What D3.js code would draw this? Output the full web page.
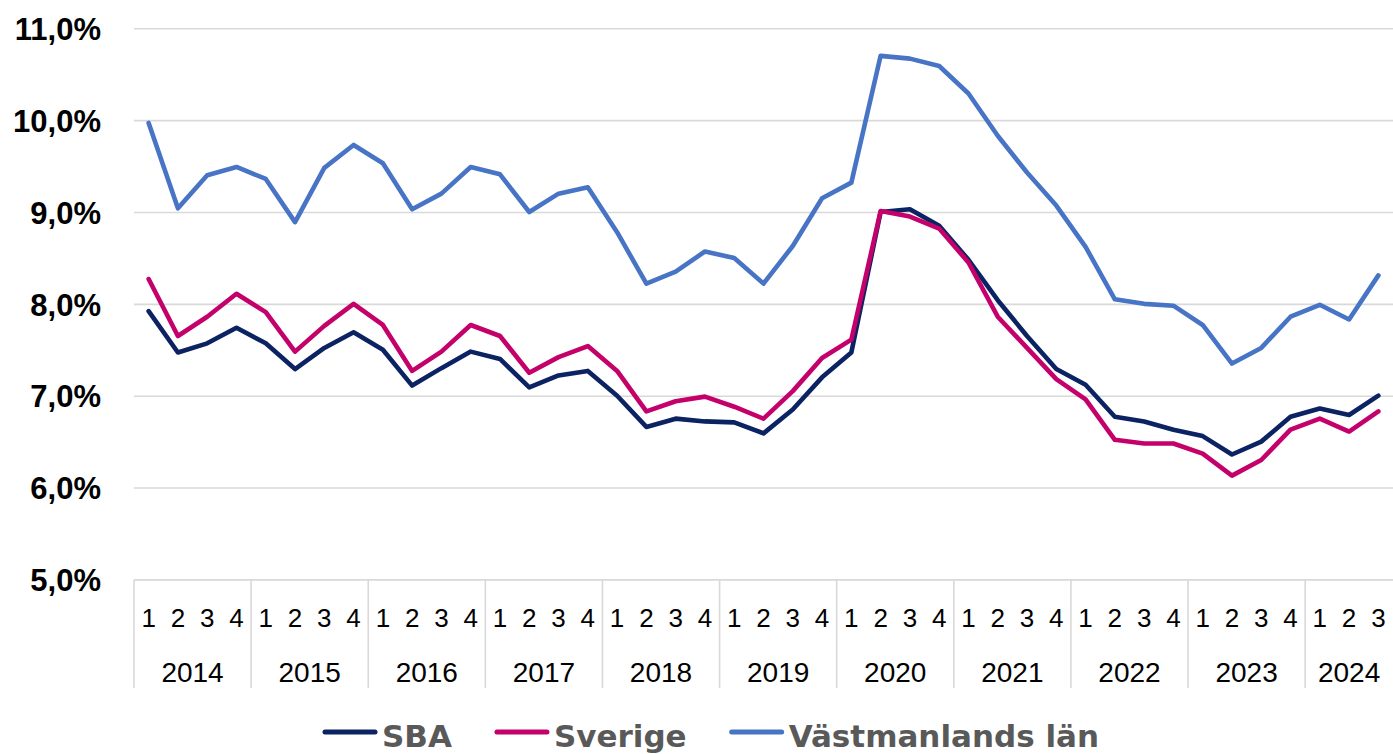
<!DOCTYPE html>
<html>
<head>
<meta charset="utf-8">
<script src="https://cdn.jsdelivr.net/npm/d3@7"></script>
<style>
  body { margin: 0; background: #fff; }
  svg { display: block; }
</style>
</head>
<body>
<svg width="1393" height="754"></svg>
<script>
// years and quarter labels for the two-level x axis
const years = ["2014", "2015", "2016", "2017", "2018", "2019", "2020", "2021", "2022", "2023", "2024"];
const quarterLabels = ["1", "2", "3", "4"];
const quartersInLastYear = 3;

// unemployment share per quarter, in percent
const sba = [
  7.92, 7.47, 7.57, 7.74, 7.57, 7.29, 7.52, 7.69, 7.50, 7.11, 7.30, 7.48,
  7.40, 7.09, 7.22, 7.27, 7.00, 6.66, 6.75, 6.72, 6.71, 6.59, 6.85, 7.20,
  7.47, 9.00, 9.03, 8.85, 8.48, 8.04, 7.65, 7.29, 7.12, 6.77, 6.72, 6.63,
  6.56, 6.36, 6.50, 6.77, 6.86, 6.79, 7.00,
];
const sverige = [
  8.27, 7.65, 7.86, 8.11, 7.91, 7.48, 7.76, 8.00, 7.77, 7.27, 7.48, 7.77,
  7.65, 7.25, 7.42, 7.54, 7.27, 6.83, 6.94, 6.99, 6.88, 6.75, 7.05, 7.41,
  7.61, 9.01, 8.95, 8.82, 8.45, 7.86, 7.52, 7.18, 6.96, 6.52, 6.48, 6.48,
  6.37, 6.13, 6.30, 6.63, 6.75, 6.61, 6.83,
];
const vastmanland = [
  9.97, 9.04, 9.40, 9.49, 9.36, 8.89, 9.48, 9.73, 9.53, 9.03, 9.20, 9.49,
  9.41, 9.00, 9.20, 9.27, 8.78, 8.22, 8.35, 8.57, 8.50, 8.22, 8.63, 9.15,
  9.32, 10.70, 10.67, 10.59, 10.29, 9.83, 9.43, 9.07, 8.62, 8.05, 8.00, 7.98,
  7.77, 7.35, 7.52, 7.86, 7.99, 7.83, 8.31,
];
const yTicks = [5, 6, 7, 8, 9, 10, 11];

const seriesNames = ["SBA", "Sverige", "Västmanlands län"];
const seriesColors = ["#0b2263", "#c4006a", "#4874c6"];
const seriesData = [sba, sverige, vastmanland];

// build the category list (year, quarter)
const categories = [];
years.forEach((y, yi) => {
  const n = yi === years.length - 1 ? quartersInLastYear : 4;
  for (let q = 0; q < n; q++) categories.push({ year: y, q: quarterLabels[q] });
});

const svg = d3.select("svg");
const margin = { left: 134, right: 0, top: 28.3, bottom: 579.4 };
const gridColor = "#d9d9d9";
const font = "'Liberation Sans', Arial, sans-serif";

const x = d3
  .scaleBand()
  .domain(d3.range(categories.length))
  .range([margin.left, 1393 - margin.right])
  .paddingInner(0)
  .paddingOuter(0);
const y = d3.scaleLinear().domain([5, 11]).range([margin.bottom, margin.top]);
const cx = (i) => x(i) + x.bandwidth() / 2;

// horizontal gridlines
svg
  .append("g")
  .attr("transform", `translate(${margin.left},0)`)
  .call(d3.axisLeft(y).tickValues(yTicks).tickSize(-(1393 - margin.left)).tickFormat(""))
  .call((g) => g.select(".domain").remove())
  .call((g) => g.selectAll("line").attr("stroke", gridColor).attr("stroke-width", 1.6));

// y labels
svg
  .append("g")
  .attr("transform", `translate(${margin.left},0)`)
  .call(
    d3
      .axisLeft(y)
      .tickValues(yTicks)
      .tickSize(0)
      .tickPadding(33)
      .tickFormat((d) => d.toFixed(1).replace(".", ",") + "%")
  )
  .call((g) => g.select(".domain").remove())
  .call((g) =>
    g
      .selectAll("text")
      .attr("fill", "#000")
      .attr("font-family", font)
      .attr("font-weight", "bold")
      .attr("font-size", "31px")
      .attr("dy", "0.36em")
  );

// x axis: year separators
const axisBottomY = y(5);
const sepBottom = 688;
const sepIdx = [0];
categories.forEach((c, i) => {
  if (i > 0 && c.q === "1") sepIdx.push(i);
});
svg
  .append("g")
  .selectAll("line")
  .data(sepIdx)
  .join("line")
  .attr("x1", (i) => x(i))
  .attr("x2", (i) => x(i))
  .attr("y1", axisBottomY)
  .attr("y2", sepBottom)
  .attr("stroke", gridColor)
  .attr("stroke-width", 1.6);

// quarter labels
svg
  .append("g")
  .selectAll("text")
  .data(categories)
  .join("text")
  .attr("x", (d, i) => cx(i))
  .attr("y", 627)
  .attr("text-anchor", "middle")
  .attr("font-family", font)
  .attr("font-size", "26px")
  .attr("fill", "#000")
  .text((d) => d.q);

// year labels centred on their quarters
const yearSpans = years.map((yr) => {
  const idx = categories.map((c, i) => (c.year === yr ? i : -1)).filter((i) => i >= 0);
  return { yr, start: x(idx[0]), end: x(idx[idx.length - 1]) + x.bandwidth() };
});
svg
  .append("g")
  .selectAll("text")
  .data(yearSpans)
  .join("text")
  .attr("x", (d) => (d.start + d.end) / 2)
  .attr("y", 682)
  .attr("text-anchor", "middle")
  .attr("font-family", font)
  .attr("font-size", "28px")
  .attr("fill", "#000")
  .text((d) => d.yr);

// lines
const line = d3
  .line()
  .x((d, i) => cx(i))
  .y((d) => y(d));
svg
  .append("g")
  .selectAll("path")
  .data(seriesData)
  .join("path")
  .attr("d", line)
  .attr("fill", "none")
  .attr("stroke", (d, i) => seriesColors[i])
  .attr("stroke-width", 4.6)
  .attr("stroke-linejoin", "round")
  .attr("stroke-linecap", "round");

// legend
const legend = svg.append("g");
let lx = 323;
const ly = 732;
seriesNames.forEach((name, i) => {
  legend
    .append("line")
    .attr("x1", lx + 2)
    .attr("x2", lx + 52)
    .attr("y1", ly)
    .attr("y2", ly)
    .attr("stroke", seriesColors[i])
    .attr("stroke-width", 5)
    .attr("stroke-linecap", "round");
  const t = legend
    .append("text")
    .attr("x", lx + 59)
    .attr("y", 747)
    .attr("font-family", "'DejaVu Sans', sans-serif")
    .attr("font-weight", "bold")
    .attr("font-size", "31px")
    .attr("fill", "#595959")
    .text(name);
  lx += 59 + t.node().getComputedTextLength() + 43;
});
</script>
</body>
</html>
